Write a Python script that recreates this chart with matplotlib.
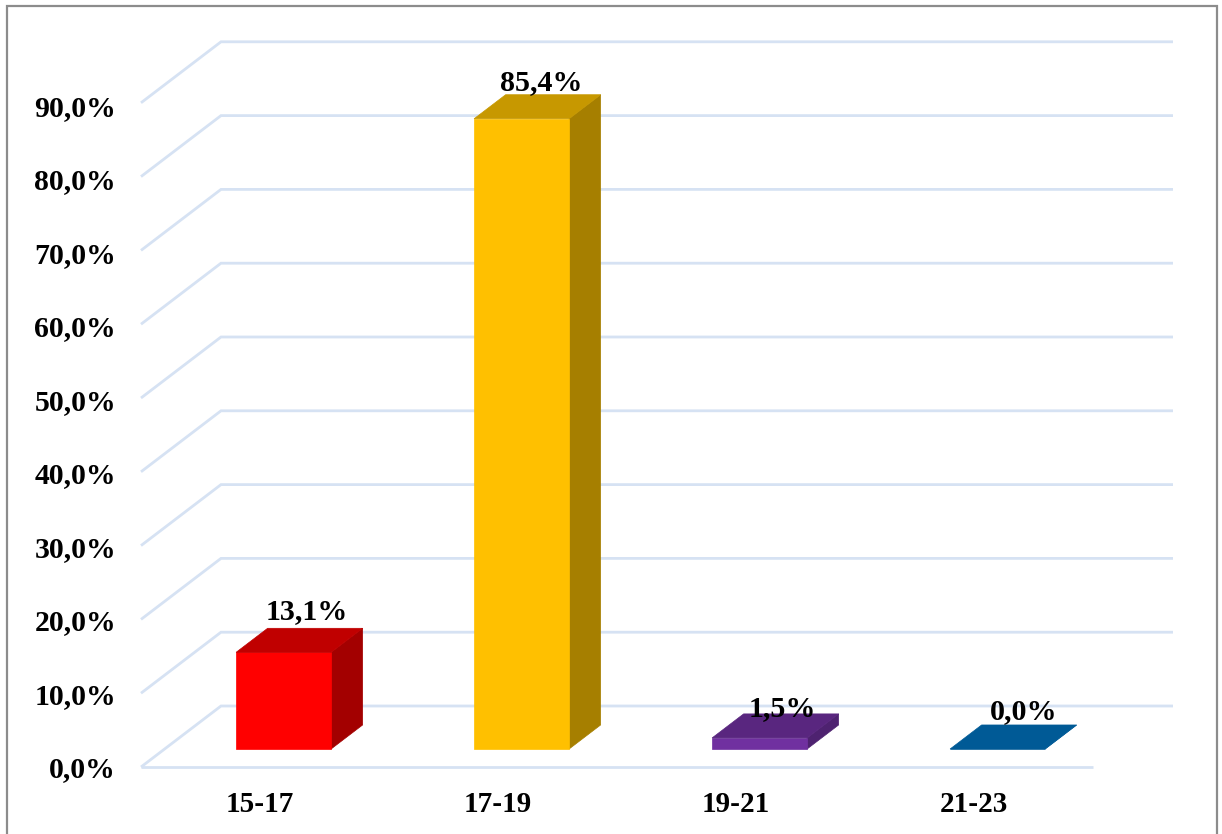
import matplotlib
matplotlib.use("Agg")
import matplotlib.pyplot as plt
from matplotlib.patches import Rectangle

# -------------------------------
# Data
# -------------------------------
categories = ["15-17", "17-19", "19-21", "21-23"]
values = [13.1, 85.4, 1.5, 0.0]
value_labels = ["13,1%", "85,4%", "1,5%", "0,0%"]
y_ticks = [0, 10, 20, 30, 40, 50, 60, 70, 80, 90]
y_tick_labels = ["0,0%", "10,0%", "20,0%", "30,0%", "40,0%",
                 "50,0%", "60,0%", "70,0%", "80,0%", "90,0%"]

front_colors = ["#ff0000", "#ffc000", "#7030a0", "#005a96"]
top_colors = ["#c00000", "#c79800", "#59267f", "#005a96"]
side_colors = ["#a30000", "#a67f00", "#4e2270", "#005a96"]

# label offset from the top back edge of each bar, in pixels
label_dx = [-8.5, -12, -9, -5.5]
label_dy = [9, 5, -2, 6]

W, H = 1222, 834
PX_X = 238.0   # pixels per category
PX_Y = 7.38    # pixels per percent
GRID = "#d6e2f3"
FONT = "Liberation Serif"


def project(x, y, d):
    """Fake 3D : depth d (0 front, 1 back wall) shifts right and up."""
    return x + d * 80 / PX_X, y + d * 61 / PX_Y


def draw_bar(ax, i, value):
    half = 95 / PX_X / 2
    d0, d1 = 0.295, 0.689
    x0, x1 = i - half, i + half

    def poly(points, color):
        pts = [project(*p) for p in points]
        ax.fill([p[0] for p in pts], [p[1] for p in pts], color=color,
                lw=0.5, clip_on=False, zorder=3)

    poly([(x1, 0, d0), (x1, 0, d1), (x1, value, d1), (x1, value, d0)], side_colors[i])
    poly([(x0, 0, d0), (x1, 0, d0), (x1, value, d0), (x0, value, d0)], front_colors[i])
    poly([(x0, value, d0), (x1, value, d0), (x1, value, d1), (x0, value, d1)], top_colors[i])

    lx, ly = project(i, value, d1)
    ax.annotate(value_labels[i], (lx, ly), xytext=(label_dx[i] * 0.72, label_dy[i] * 0.72),
                textcoords="offset points", ha="center", va="baseline",
                family=FONT, weight="bold", fontsize=21.6, zorder=5, annotation_clip=False)


fig = plt.figure(figsize=(W / 100, H / 100), dpi=100)
ax = fig.add_axes([141 / W, (H - 767) / H, 952 / W, 90 * PX_Y / H])
ax.set_xlim(-0.5, 3.5)
ax.set_ylim(0, 90)
ax.patch.set_alpha(0)
for s in ax.spines.values():
    s.set_visible(False)

# murs et grille
x_left, x_right = -0.5, 3.5
for v in y_ticks:
    p0 = project(x_left, v, 0)
    p1 = project(x_left, v, 1)
    p2 = project(x_right, v, 1)
    ax.plot([p0[0], p1[0], p2[0]], [p0[1], p1[1], p2[1]], color=GRID, lw=2.0,
            clip_on=False, zorder=1, solid_joinstyle="miter", solid_capstyle="butt")
ax.plot([x_left, x_right], [0, 0], color=GRID, lw=2.0, clip_on=False, zorder=1,
        solid_capstyle="butt")

for i, v in enumerate(values):
    draw_bar(ax, i, v)

ax.set_xticks(range(len(categories)))
ax.set_xticklabels(categories, family=FONT, weight="bold", fontsize=21)
# les etiquettes de l'axe ne tombent pas tout a fait sur la grille
ax.set_yticks([v * 73.55 / (10 * PX_Y) for v in y_ticks])
ax.set_yticklabels(y_tick_labels, family=FONT, weight="bold", fontsize=21.4)
ax.tick_params(axis="x", length=0, pad=17)
ax.tick_params(axis="y", length=0, pad=18)

# cadre gris, ouvert en bas
fig.add_artist(Rectangle((6.5 / W, -0.02), (1217 - 6.5) / W, 1.02 - 6 / H, fill=False,
                         edgecolor="#8c8c8c", lw=1.6, transform=fig.transFigure))

fig.savefig("out.png", dpi=100, facecolor="white")
